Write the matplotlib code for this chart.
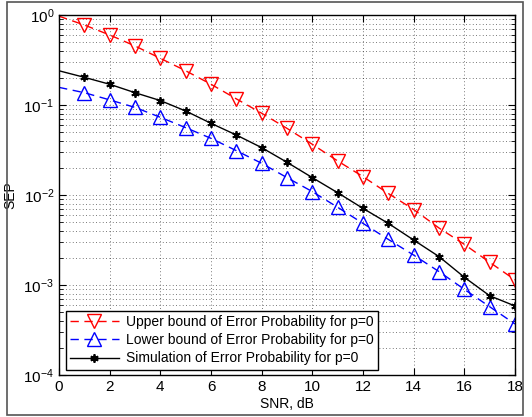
import numpy as np
import matplotlib
matplotlib.use('Agg')
from matplotlib import pyplot as plt
from matplotlib.patches import Rectangle
from matplotlib.ticker import LogLocator, NullFormatter

plt.rcParams['font.family'] = ['Liberation Sans', 'DejaVu Sans']
plt.rcParams['mathtext.fontset'] = 'custom'
plt.rcParams['mathtext.rm'] = 'Liberation Sans'
plt.rcParams['mathtext.it'] = 'Liberation Sans:italic'
plt.rcParams['font.size'] = 10

# SNR axis (dB)
snr = list(range(0, 19))

# Upper bound of error probability
upper = [0.97, 0.774, 0.60, 0.453, 0.33, 0.24, 0.17, 0.117, 0.081, 0.055,
         0.0366, 0.0239, 0.016, 0.0104, 0.0069, 0.0043, 0.00283, 0.00179, 0.00114]

# Lower bound of error probability
lower = [0.157, 0.137, 0.114, 0.094, 0.073, 0.056, 0.0426, 0.0311, 0.0225, 0.0156,
         0.0109, 0.0073, 0.00484, 0.00321, 0.00215, 0.00141, 0.000895, 0.000574, 0.000369]

# Simulation
sim = [0.24, 0.203, 0.17, 0.137, 0.112, 0.0858, 0.0626, 0.0464, 0.0336, 0.0231,
       0.0156, 0.0106, 0.0071, 0.00484, 0.00316, 0.00207, 0.00122, 0.00076, 0.000585]

labels = ['Upper bound of Error Probability for p=0',
          'Lower bound of Error Probability for p=0',
          'Simulation of Error Probability for p=0']

fig = plt.figure(figsize=(5.32, 4.17), dpi=100)
ax = fig.add_axes([0.111, 0.1007, 0.857, 0.8633])

ax.semilogy(snr, upper, color='red', linestyle=(0, (6, 4)), linewidth=1,
            marker='v', markersize=9.5, markerfacecolor='none', markeredgewidth=1,
            markevery=slice(1, None), label=labels[0])
ax.semilogy(snr, lower, color='blue', linestyle=(0, (6, 4)), linewidth=1,
            marker='^', markersize=9.5, markerfacecolor='none', markeredgewidth=1,
            markevery=slice(1, None), label=labels[1])
ax.semilogy(snr, sim, color='black', linestyle='-', linewidth=1,
            marker=(6, 2, 0), markersize=6, markeredgewidth=1.3,
            markevery=slice(1, None), label=labels[2])

ax.set_xlim(0, 18)
ax.set_ylim(1e-4, 1)
ax.set_xticks(range(0, 19, 2))
ax.yaxis.set_minor_locator(LogLocator(base=10, subs=np.arange(2, 10)))
ax.yaxis.set_minor_formatter(NullFormatter())

ax.grid(True, which='major', linestyle=(0, (1, 3)), color='black', linewidth=0.6, alpha=0.7)
ax.grid(True, which='minor', axis='y', linestyle=(0, (1, 3)), color='black', linewidth=0.6, alpha=0.7)

ax.tick_params(which='both', direction='in', top=True, right=True, labelsize=11)
ax.tick_params(which='major', length=5)
ax.tick_params(which='minor', length=3)
for s in ax.spines.values():
    s.set_linewidth(1)

ax.set_xlabel('SNR, dB', fontsize=10, labelpad=2)
ax.set_ylabel('SEP', fontsize=10, labelpad=4)

leg = ax.legend(loc='lower left', bbox_to_anchor=(0.015, 0.015), fontsize=10,
                fancybox=False, framealpha=1, edgecolor='black',
                handlelength=3.5, borderpad=0.3, labelspacing=0.3,
                handletextpad=0.5, borderaxespad=0)
leg.get_frame().set_linewidth(1)

# outer figure frame
fig.patches.append(Rectangle((7 / 532, 2 / 417), 516 / 532, 413 / 417,
                             transform=fig.transFigure, fill=False,
                             edgecolor='#555555', linewidth=1.2))

fig.savefig('out.png', dpi=100)
